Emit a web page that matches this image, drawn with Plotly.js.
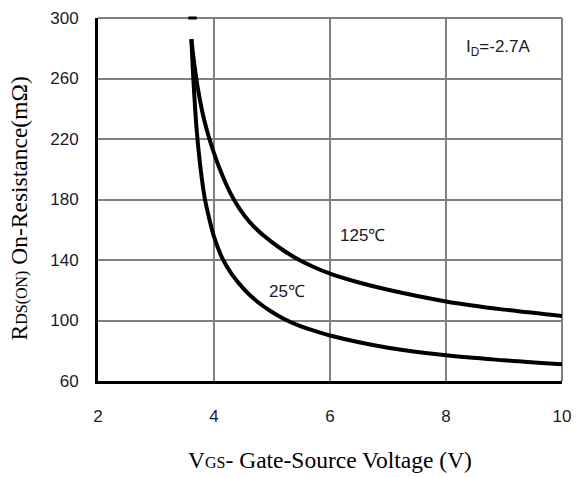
<!DOCTYPE html>
<html>
<head>
<meta charset="utf-8">
<script src="https://cdn.plot.ly/plotly-3.0.1.min.js"></script>
<style>html,body{margin:0;padding:0;background:#fff;}#chart{width:578px;height:477px;}</style>
</head>
<body>
<div id="chart"></div>
<script>
// Data
const vgs25 = [3.61, 3.65, 3.70, 3.77, 3.84, 3.92, 4.0, 4.14, 4.3, 4.5, 4.63, 4.8, 5.0, 5.2, 5.5, 5.86, 6.0, 6.5, 7.0, 8.0, 9.0, 10];
const rds25 = [286, 255.6, 226.7, 200, 181, 167, 155.4, 141.4, 131, 121.4, 116.4, 110.9, 105.6, 101.2, 96.1, 91.6, 90.1, 85.6, 82, 77, 73.7, 71];
const vgs125 = [3.61, 3.66, 3.72, 3.80, 3.87, 3.93, 4.0, 4.1, 4.2, 4.31, 4.45, 4.62, 4.8, 4.97, 5.2, 5.4, 5.7, 6.0, 6.5, 7.0, 8.0, 9.0, 10];
const rds125 = [286, 269.6, 253.8, 237.7, 226.8, 218.9, 210.7, 200.1, 190.9, 182.2, 173.3, 164.9, 158, 152.7, 146.3, 141.5, 135.7, 131, 125.1, 120.3, 112.6, 107.2, 103];
const topMarkX = [3.63];
const topMarkY = [300];
const xTicks = [2, 4, 6, 8, 10];
const yTicks = [60, 100, 140, 180, 220, 260, 300];
const labels = [
  {text: '125\u2103', x: 6.56, y: 156},
  {text: '25\u2103', x: 5.26, y: 119},
  {text: 'I<sub>D</sub>=-2.7A', x: 8.9, y: 280}
];
const xTitle = 'V<span style="font-size:16px">GS</span>- Gate-Source Voltage (V)';
const yTitle = 'R<span style="font-size:16px">DS(ON)</span> On-Resistance(m\u03A9)';

const lineStyle = {color: '#000', width: 4, shape: 'spline', smoothing: 1};
const traces = [
  {x: vgs25, y: rds25, type: 'scatter', mode: 'lines', line: lineStyle, name: '25\u2103', hoverinfo: 'x+y'},
  {x: vgs125, y: rds125, type: 'scatter', mode: 'lines', line: lineStyle, name: '125\u2103', hoverinfo: 'x+y'},
  {x: topMarkX, y: topMarkY, type: 'scatter', mode: 'markers', cliponaxis: false,
   marker: {symbol: 'line-ew', size: 6, line: {color: '#000', width: 3}}, hoverinfo: 'skip'}
];

const tickFont = {family: 'Liberation Sans, Arial, sans-serif', size: 17, color: '#1a1a2a'};
const titleFont = {family: 'Liberation Serif, Times New Roman, serif', size: 23.5, color: '#000'};

const annotations = labels.map(l => ({
  x: l.x, y: l.y, xref: 'x', yref: 'y', text: l.text, showarrow: false,
  font: {family: 'Liberation Sans, Arial, sans-serif', size: 17, color: '#1a1a2a'}
}));
annotations.push({
  xref: 'paper', yref: 'paper', x: 0, y: 0.5, xanchor: 'center', yanchor: 'middle',
  xshift: -80, yshift: -9, textangle: -90, showarrow: false, text: yTitle, font: titleFont
});

const layout = {
  width: 578, height: 477,
  margin: {l: 98, r: 16, t: 18, b: 96},
  paper_bgcolor: '#fff', plot_bgcolor: '#fff',
  showlegend: false,
  xaxis: {
    range: [2, 10], tickvals: xTicks, ticktext: xTicks.map(String),
    showgrid: true, gridcolor: '#808080', gridwidth: 2,
    showline: true, linecolor: '#000', linewidth: 3,
    ticks: 'outside', ticklen: 18, tickcolor: 'rgba(0,0,0,0)',
    tickfont: tickFont, zeroline: false, fixedrange: true,
    title: {text: xTitle, font: titleFont, standoff: 27}
  },
  yaxis: {
    range: [60, 300], tickvals: yTicks, ticktext: yTicks.map(String),
    showgrid: true, gridcolor: '#808080', gridwidth: 2,
    showline: true, linecolor: '#000', linewidth: 3,
    ticks: 'outside', ticklen: 13, tickcolor: 'rgba(0,0,0,0)',
    tickfont: tickFont, zeroline: false, fixedrange: true
  },
  shapes: [
    {type: 'line', xref: 'paper', yref: 'paper', x0: 0, x1: 1, y0: 1, y1: 1, line: {color: '#808080', width: 2}, layer: 'below'},
    {type: 'line', xref: 'paper', yref: 'paper', x0: 1, x1: 1, y0: 0, y1: 1, line: {color: '#808080', width: 2}, layer: 'below'}
  ],
  annotations: annotations
};

Plotly.newPlot('chart', traces, layout, {displayModeBar: false, staticPlot: true});
</script>
</body>
</html>
